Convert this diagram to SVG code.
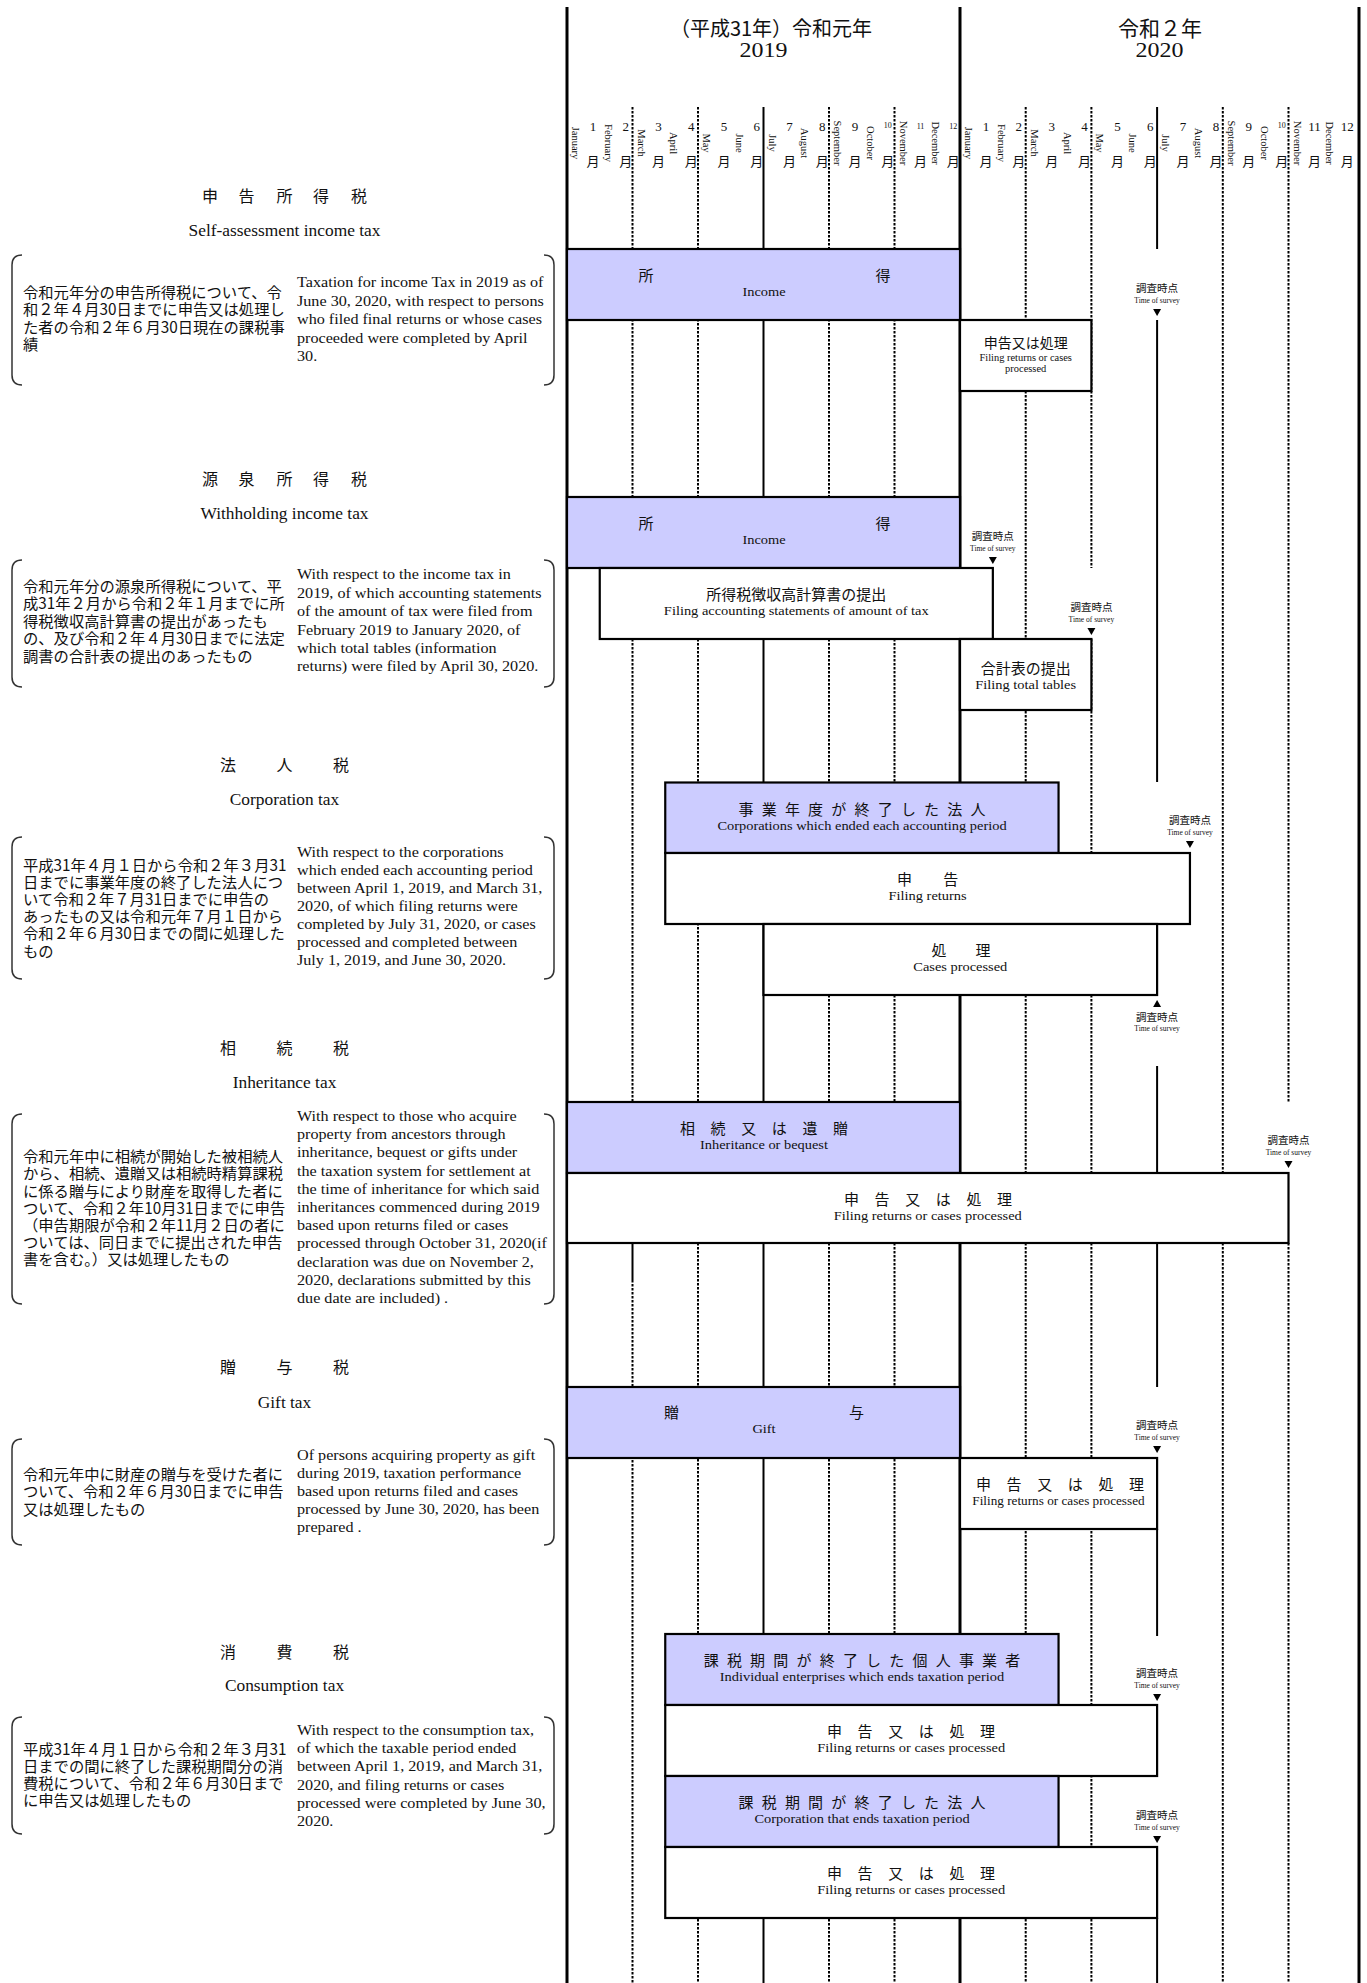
<svg xmlns="http://www.w3.org/2000/svg" width="1367" height="1983" viewBox="0 0 1367 1983">
<style>
.jp{font-family:"Noto Sans CJK JP","Noto Sans CJK SC",sans-serif;fill:#111}
.en{font-family:"Liberation Serif","Times New Roman",serif;fill:#111}
.mid{text-anchor:middle}
.thick{stroke:#000;stroke-width:3}
.solid{stroke:#000;stroke-width:2}
.dot{stroke:#000;stroke-width:2;stroke-dasharray:2.5 1.5}
.box{stroke:#000;stroke-width:2.2;fill:#fff}
.shade{fill:#ccccff}
.br{fill:none;stroke:#333;stroke-width:1.5}
.bj{font-size:15px}
.be{font-size:13.1px}
.dj{font-size:15.3px}
.de{font-size:14.7px}
.tj{font-size:16px}
.te{font-size:15.8px}
.sj{font-size:10.5px}
.se{font-size:7.5px}
.mn{font-size:10.5px;text-anchor:middle}
.num{font-size:13px;text-anchor:middle}
.sn{font-size:8px;text-anchor:middle}
</style>
<rect width="1367" height="1983" fill="#fff"/>

<!-- Grid -->
<g id="grid">
  <line class="thick" x1="567" y1="7" x2="567" y2="1983"/>
  <line class="thick" x1="960" y1="7" x2="960" y2="1983"/>
  <line class="thick" x1="1359" y1="7" x2="1359" y2="1983"/>
  <line class="dot" x1="632.5" y1="107" x2="632.5" y2="1243"/>
  <line class="solid" x1="632.5" y1="1243" x2="632.5" y2="1280" stroke-width="1.5"/>
  <line class="dot" x1="632.5" y1="1280" x2="632.5" y2="1983"/>
  <line class="dot" x1="698" y1="107" x2="698" y2="1983"/>
  <line class="solid" x1="763.5" y1="107" x2="763.5" y2="1983"/>
  <line class="dot" x1="829" y1="107" x2="829" y2="1983"/>
  <line class="dot" x1="894.5" y1="107" x2="894.5" y2="1983"/>
  <line class="dot" x1="1025.7" y1="107" x2="1025.7" y2="1983"/>
  <line class="dot" x1="1091.4" y1="107" x2="1091.4" y2="568"/>
  <line class="dot" x1="1091.4" y1="639" x2="1091.4" y2="1983"/>
  <line class="solid" x1="1157.1" y1="107" x2="1157.1" y2="249"/>
  <line class="solid" x1="1157.1" y1="320" x2="1157.1" y2="782"/>
  <line class="solid" x1="1157.1" y1="1066" x2="1157.1" y2="1387"/>
  <line class="solid" x1="1157.1" y1="1529" x2="1157.1" y2="1636"/>
  <line class="solid" x1="1157.1" y1="1918" x2="1157.1" y2="1983"/>
  <line class="dot" x1="1222.8" y1="107" x2="1222.8" y2="1983"/>
  <line class="dot" x1="1288.5" y1="107" x2="1288.5" y2="1103"/>
  <line class="dot" x1="1288.5" y1="1243" x2="1288.5" y2="1983"/>
</g>

<!-- Header -->
<g id="header">
  <text class="jp mid" x="771" y="36" font-size="20">（平成31年）令和元年</text>
  <text class="jp mid" x="1160" y="36" font-size="21">令和２年</text>
  <g transform="scale(1.1,1)">
    <text class="en mid" x="694.09" y="57" font-size="21.8">2019</text>
    <text class="en mid" x="1054.09" y="57" font-size="21.8">2020</text>
  </g>
  <text class="en num" x="593 625.75 658.5 691.25 724 756.75 789.5 822.25 855" y="131">123456789</text>
  <text class="en sn" x="887.75" y="128">10</text>
  <text class="en sn" x="920.5" y="129">11</text>
  <text class="en sn" x="953.25" y="129">12</text>
  <text class="en num" x="986 1018.85 1051.7 1084.55 1117.4 1150.25 1183.1 1215.95 1248.8" y="131">123456789</text>
  <text class="en sn" x="1281.65" y="128">10</text>
  <text class="en num" x="1314.5" y="131" font-size="11">11</text>
  <text class="en num" x="1347.35" y="131">12</text>
  <text class="jp mid" font-size="13" y="166" x="593 625.75 658.5 691.25 724 756.75 789.5 822.25 855 887.75 920.5 953.25 986 1018.85 1051.7 1084.55 1117.4 1150.25 1183.1 1215.95 1248.8 1281.65 1314.5 1347.35">月月月月月月月月月月月月月月月月月月月月月月月月</text>
  <text class="en mn" transform="translate(572,143) rotate(90)">January</text>
  <text class="en mn" transform="translate(604.75,143) rotate(90)">February</text>
  <text class="en mn" transform="translate(637.5,143) rotate(90)">March</text>
  <text class="en mn" transform="translate(670.25,143) rotate(90)">April</text>
  <text class="en mn" transform="translate(703,143) rotate(90)">May</text>
  <text class="en mn" transform="translate(735.75,143) rotate(90)">June</text>
  <text class="en mn" transform="translate(768.5,143) rotate(90)">July</text>
  <text class="en mn" transform="translate(801.25,143) rotate(90)">August</text>
  <text class="en mn" transform="translate(834,143) rotate(90)">September</text>
  <text class="en mn" transform="translate(866.75,143) rotate(90)">October</text>
  <text class="en mn" transform="translate(899.5,143) rotate(90)">November</text>
  <text class="en mn" transform="translate(932.25,143) rotate(90)">December</text>
  <text class="en mn" transform="translate(965,143) rotate(90)">January</text>
  <text class="en mn" transform="translate(997.85,143) rotate(90)">February</text>
  <text class="en mn" transform="translate(1030.7,143) rotate(90)">March</text>
  <text class="en mn" transform="translate(1063.55,143) rotate(90)">April</text>
  <text class="en mn" transform="translate(1096.4,143) rotate(90)">May</text>
  <text class="en mn" transform="translate(1129.25,143) rotate(90)">June</text>
  <text class="en mn" transform="translate(1162.1,143) rotate(90)">July</text>
  <text class="en mn" transform="translate(1194.95,143) rotate(90)">August</text>
  <text class="en mn" transform="translate(1227.8,143) rotate(90)">September</text>
  <text class="en mn" transform="translate(1260.65,143) rotate(90)">October</text>
  <text class="en mn" transform="translate(1293.5,143) rotate(90)">November</text>
  <text class="en mn" transform="translate(1326.35,143) rotate(90)">December</text>
</g>

<!-- Left panel: row titles and descriptions -->
<g id="row1-desc">
  <text class="jp tj mid" x="210 246.6 284.5 321 359" y="202">申告所得税</text>
  <text class="en te mid" transform="scale(1.1,1)" x="258.64" y="236">Self-assessment income tax</text>
  <path class="br" d="M22,255 Q12,255 12,265 L12,375 Q12,385 22,385"/>
  <path class="br" d="M544,255 Q554,255 554,265 L554,375 Q554,385 544,385"/>
  <g class="jp dj">
    <text x="23" y="297.5">令和元年分の申告所得税について、令</text>
    <text x="23" y="315">和２年４月30日までに申告又は処理し</text>
    <text x="23" y="332.5">た者の令和２年６月30日現在の課税事</text>
    <text x="23" y="350">績</text>
  </g>
  <g class="en de" transform="scale(1.1,1)">
    <text x="270" y="287.5">Taxation for income Tax in 2019 as of</text>
    <text x="270" y="305.9">June 30, 2020, with respect to persons</text>
    <text x="270" y="324.3">who filed final returns or whose cases</text>
    <text x="270" y="342.7">proceeded were completed by April</text>
    <text x="270" y="361.1">30.</text>
  </g>
</g>

<g id="row2-desc">
  <text class="jp tj mid" x="210 246.6 284.5 321 359" y="485">源泉所得税</text>
  <text class="en te mid" transform="scale(1.1,1)" x="258.64" y="519.5">Withholding income tax</text>
  <path class="br" d="M22,560 Q12,560 12,570 L12,677 Q12,687 22,687"/>
  <path class="br" d="M544,560 Q554,560 554,570 L554,677 Q554,687 544,687"/>
  <g class="jp dj">
    <text x="23" y="592">令和元年分の源泉所得税について、平</text>
    <text x="23" y="609.4">成31年２月から令和２年１月までに所</text>
    <text x="23" y="626.8">得税徴収高計算書の提出があったも</text>
    <text x="23" y="644.2">の、及び令和２年４月30日までに法定</text>
    <text x="23" y="661.6">調書の合計表の提出のあったもの</text>
  </g>
  <g class="en de" transform="scale(1.1,1)">
    <text x="270" y="579.5">With respect to the income tax in</text>
    <text x="270" y="597.9">2019, of which accounting statements</text>
    <text x="270" y="616.3">of the amount of tax were filed from</text>
    <text x="270" y="634.7">February 2019 to January 2020, of</text>
    <text x="270" y="653.1">which total tables (information</text>
    <text x="270" y="671.5">returns) were filed by April 30, 2020.</text>
  </g>
</g>

<g id="row3-desc">
  <text class="jp tj mid" x="228 284.5 341" y="771">法人税</text>
  <text class="en te mid" transform="scale(1.1,1)" x="258.64" y="805">Corporation tax</text>
  <path class="br" d="M22,837 Q12,837 12,847 L12,969 Q12,979 22,979"/>
  <path class="br" d="M544,837 Q554,837 554,847 L554,969 Q554,979 544,979"/>
  <g class="jp dj">
    <text x="23" y="870.5">平成31年４月１日から令和２年３月31</text>
    <text x="23" y="887.7">日までに事業年度の終了した法人につ</text>
    <text x="23" y="904.9">いて令和２年７月31日までに申告の</text>
    <text x="23" y="922.1">あったもの又は令和元年７月１日から</text>
    <text x="23" y="939.3">令和２年６月30日までの間に処理した</text>
    <text x="23" y="956.5">もの</text>
  </g>
  <g class="en de" transform="scale(1.1,1)">
    <text x="270" y="857.3">With respect to the corporations</text>
    <text x="270" y="875.2">which ended each accounting period</text>
    <text x="270" y="893.1">between April 1,  2019, and March 31,</text>
    <text x="270" y="911">2020, of which filing returns were</text>
    <text x="270" y="928.9">completed by July 31, 2020, or cases</text>
    <text x="270" y="946.8">processed and completed between</text>
    <text x="270" y="964.7">July 1, 2019, and June 30, 2020.</text>
  </g>
</g>

<g id="row4-desc">
  <text class="jp tj mid" x="228 284.5 341" y="1053.5">相続税</text>
  <text class="en te mid" transform="scale(1.1,1)" x="258.64" y="1088">Inheritance tax</text>
  <path class="br" d="M22,1114 Q12,1114 12,1124 L12,1294 Q12,1304 22,1304"/>
  <path class="br" d="M544,1114 Q554,1114 554,1124 L554,1294 Q554,1304 544,1304"/>
  <g class="jp dj">
    <text x="23" y="1162.2">令和元年中に相続が開始した被相続人</text>
    <text x="23" y="1179.4">から、相続、遺贈又は相続時精算課税</text>
    <text x="23" y="1196.6">に係る贈与により財産を取得した者に</text>
    <text x="23" y="1213.8">ついて、令和２年10月31日までに申告</text>
    <text x="23" y="1231">（申告期限が令和２年11月２日の者に</text>
    <text x="23" y="1248.2">ついては、同日までに提出された申告</text>
    <text x="23" y="1265.4">書を含む。）又は処理したもの</text>
  </g>
  <g class="en de" transform="scale(1.1,1)">
    <text x="270" y="1121">With respect to those who acquire</text>
    <text x="270" y="1139.2">property from ancestors through</text>
    <text x="270" y="1157.4">inheritance, bequest or gifts under</text>
    <text x="270" y="1175.6">the taxation system for settlement at</text>
    <text x="270" y="1193.8">the time of inheritance for which said</text>
    <text x="270" y="1212">inheritances  commenced during 2019</text>
    <text x="270" y="1230.2">based upon returns filed or cases</text>
    <text x="270" y="1248.4">processed through October 31, 2020(if</text>
    <text x="270" y="1266.6">declaration was due on November 2,</text>
    <text x="270" y="1284.8">2020, declarations submitted by this</text>
    <text x="270" y="1303">due date are included) .</text>
  </g>
</g>

<g id="row5-desc">
  <text class="jp tj mid" x="228 284.5 341" y="1373">贈与税</text>
  <text class="en te mid" transform="scale(1.1,1)" x="258.64" y="1408.5">Gift tax</text>
  <path class="br" d="M22,1439 Q12,1439 12,1449 L12,1535 Q12,1545 22,1545"/>
  <path class="br" d="M544,1439 Q554,1439 554,1449 L554,1535 Q554,1545 544,1545"/>
  <g class="jp dj">
    <text x="23" y="1480">令和元年中に財産の贈与を受けた者に</text>
    <text x="23" y="1497.3">ついて、令和２年６月30日までに申告</text>
    <text x="23" y="1514.6">又は処理したもの</text>
  </g>
  <g class="en de" transform="scale(1.1,1)">
    <text x="270" y="1459.6">Of persons acquiring property as gift</text>
    <text x="270" y="1477.8">during 2019, taxation performance</text>
    <text x="270" y="1496">based upon returns filed and cases</text>
    <text x="270" y="1514.2">processed by June 30, 2020, has been</text>
    <text x="270" y="1532.4">prepared .</text>
  </g>
</g>

<g id="row6-desc">
  <text class="jp tj mid" x="228 284.5 341" y="1658">消費税</text>
  <text class="en te mid" transform="scale(1.1,1)" x="258.64" y="1691.5">Consumption tax</text>
  <path class="br" d="M22,1717 Q12,1717 12,1727 L12,1824 Q12,1834 22,1834"/>
  <path class="br" d="M544,1717 Q554,1717 554,1727 L554,1824 Q554,1834 544,1834"/>
  <g class="jp dj">
    <text x="23" y="1754.5">平成31年４月１日から令和２年３月31</text>
    <text x="23" y="1771.8">日までの間に終了した課税期間分の消</text>
    <text x="23" y="1789.1">費税について、令和２年６月30日まで</text>
    <text x="23" y="1806.4">に申告又は処理したもの</text>
  </g>
  <g class="en de" transform="scale(1.1,1)">
    <text x="270" y="1735">With respect to the consumption tax,</text>
    <text x="270" y="1753.2">of which the taxable period ended</text>
    <text x="270" y="1771.4">between April 1, 2019, and March 31,</text>
    <text x="270" y="1789.6">2020, and filing returns or cases</text>
    <text x="270" y="1807.8">processed were completed by June 30,</text>
    <text x="270" y="1826">2020.</text>
  </g>
</g>

<!-- Chart boxes -->
<g id="r1-income">
  <rect class="box shade" x="567" y="249" width="393" height="71"/>
  <text class="jp bj mid" x="646 883" y="281">所得</text>
  <text class="en be mid" transform="scale(1.1,1)" x="694.55" y="296.5">Income</text>
</g>
<g id="r1-filing">
  <rect class="box" x="960" y="320" width="131.4" height="71"/>
  <text class="jp mid" font-size="14" x="1025.7" y="348">申告又は処理</text>
  <g class="en mid" font-size="9.5" transform="scale(1.1,1)">
    <text x="932.45" y="361">Filing returns or cases</text>
    <text x="932.45" y="372.5">processed</text>
  </g>
</g>

<g id="r2-income">
  <rect class="box shade" x="567" y="497" width="393" height="71"/>
  <text class="jp bj mid" x="646 883" y="529">所得</text>
  <text class="en be mid" transform="scale(1.1,1)" x="694.55" y="544.5">Income</text>
</g>
<g id="r2-statements">
  <rect class="box" x="599.75" y="568" width="393.1" height="71"/>
  <text class="jp bj mid" x="796.3" y="600">所得税徴収高計算書の提出</text>
  <text class="en be mid" transform="scale(1.1,1)" x="723.9" y="615.5">Filing accounting statements of amount of tax</text>
</g>
<g id="r2-total">
  <rect class="box" x="960" y="639" width="131.4" height="71"/>
  <text class="jp bj mid" x="1025.7" y="674">合計表の提出</text>
  <text class="en be mid" transform="scale(1.1,1)" x="932.45" y="689">Filing total tables</text>
</g>

<g id="r3-corp">
  <rect class="box shade" x="665.25" y="782.5" width="393.3" height="70.5"/>
  <text class="jp bj mid" x="746 769.2 792.4 815.6 838.8 862 885.2 908.4 931.6 954.8 978" y="814.5">事業年度が終了した法人</text>
  <text class="en be mid" transform="scale(1.1,1)" x="783.64" y="830">Corporations which ended each accounting period</text>
</g>
<g id="r3-filing">
  <rect class="box" x="665.25" y="853" width="524.7" height="71"/>
  <text class="jp bj mid" x="904.4 950.8" y="885">申告</text>
  <text class="en be mid" transform="scale(1.1,1)" x="843.27" y="900.5">Filing returns</text>
</g>
<g id="r3-processed">
  <rect class="box" x="763.5" y="924" width="393.6" height="71"/>
  <text class="jp bj mid" x="939 983" y="956">処理</text>
  <text class="en be mid" transform="scale(1.1,1)" x="873" y="971.5">Cases processed</text>
</g>

<g id="r4-inherit">
  <rect class="box shade" x="567" y="1102" width="393" height="71"/>
  <text class="jp bj mid" x="687.5 718.1 748.7 779.3 809.9 840.5" y="1134">相続又は遺贈</text>
  <text class="en be mid" transform="scale(1.1,1)" x="694.55" y="1149.5">Inheritance or bequest</text>
</g>
<g id="r4-filing">
  <rect class="box" x="567" y="1173" width="721.5" height="70"/>
  <text class="jp bj mid" x="851.5 882.1 912.7 943.3 973.9 1004.5" y="1205">申告又は処理</text>
  <text class="en be mid" transform="scale(1.1,1)" x="843.41" y="1220.5">Filing returns or cases processed</text>
</g>

<g id="r5-gift">
  <rect class="box shade" x="567" y="1387" width="393" height="71"/>
  <text class="jp bj mid" x="671.6 856.5" y="1418">贈与</text>
  <text class="en be mid" transform="scale(1.1,1)" x="694.55" y="1433">Gift</text>
</g>
<g id="r5-filing">
  <rect class="box" x="960" y="1458" width="197.1" height="71"/>
  <text class="jp bj mid" x="983.5 1014.1 1044.7 1075.3 1105.9 1136.5" y="1490">申告又は処理</text>
  <text class="en mid" font-size="12" transform="scale(1.1,1)" x="962.27" y="1505">Filing returns or cases processed</text>
</g>

<g id="r6-indiv">
  <rect class="box shade" x="665.25" y="1634" width="393.3" height="71"/>
  <text class="jp bj mid" x="711.2 734.4 757.6 780.8 804 827.2 850.4 873.6 896.8 920 943.2 966.4 989.6 1012.8" y="1666">課税期間が終了した個人事業者</text>
  <text class="en be mid" transform="scale(1.1,1)" x="783.64" y="1681.5">Individual enterprises which ends taxation period</text>
</g>
<g id="r6-filing1">
  <rect class="box" x="665.25" y="1705" width="491.85" height="71"/>
  <text class="jp bj mid" x="834.5 865.1 895.7 926.3 956.9 987.5" y="1737">申告又は処理</text>
  <text class="en be mid" transform="scale(1.1,1)" x="828.36" y="1752.5">Filing returns or cases processed</text>
</g>
<g id="r6-corp">
  <rect class="box shade" x="665.25" y="1776" width="393.3" height="71"/>
  <text class="jp bj mid" x="746 769.2 792.4 815.6 838.8 862 885.2 908.4 931.6 954.8 978" y="1808">課税期間が終了した法人</text>
  <text class="en be mid" transform="scale(1.1,1)" x="783.64" y="1823.5">Corporation that ends taxation period</text>
</g>
<g id="r6-filing2">
  <rect class="box" x="665.25" y="1847" width="491.85" height="71"/>
  <text class="jp bj mid" x="834.5 865.1 895.7 926.3 956.9 987.5" y="1879">申告又は処理</text>
  <text class="en be mid" transform="scale(1.1,1)" x="828.36" y="1894.5">Filing returns or cases processed</text>
</g>

<!-- Survey markers -->
<g id="survey-r1">
  <text class="jp sj mid" x="1157.1" y="292">調査時点</text>
  <text class="en se mid" x="1157.1" y="302.5">Time of survey</text>
  <polygon points="1153.1,309 1161.1,309 1157.1,316" fill="#000"/>
</g>
<g id="survey-r2a">
  <text class="jp sj mid" x="992.85" y="540">調査時点</text>
  <text class="en se mid" x="992.85" y="550.5">Time of survey</text>
  <polygon points="988.85,557 996.85,557 992.85,564" fill="#000"/>
</g>
<g id="survey-r2b">
  <text class="jp sj mid" x="1091.4" y="611">調査時点</text>
  <text class="en se mid" x="1091.4" y="621.5">Time of survey</text>
  <polygon points="1087.4,628 1095.4,628 1091.4,635" fill="#000"/>
</g>
<g id="survey-r3a">
  <text class="jp sj mid" x="1189.95" y="824">調査時点</text>
  <text class="en se mid" x="1189.95" y="834.5">Time of survey</text>
  <polygon points="1185.95,841 1193.95,841 1189.95,848" fill="#000"/>
</g>
<g id="survey-r3b">
  <polygon points="1157.1,1000 1153.1,1007 1161.1,1007" fill="#000"/>
  <text class="jp sj mid" x="1157.1" y="1020.5">調査時点</text>
  <text class="en se mid" x="1157.1" y="1031">Time of survey</text>
</g>
<g id="survey-r4">
  <text class="jp sj mid" x="1288.5" y="1144">調査時点</text>
  <text class="en se mid" x="1288.5" y="1154.5">Time of survey</text>
  <polygon points="1284.5,1161 1292.5,1161 1288.5,1168" fill="#000"/>
</g>
<g id="survey-r5">
  <text class="jp sj mid" x="1157.1" y="1429">調査時点</text>
  <text class="en se mid" x="1157.1" y="1439.5">Time of survey</text>
  <polygon points="1153.1,1446 1161.1,1446 1157.1,1453" fill="#000"/>
</g>
<g id="survey-r6a">
  <text class="jp sj mid" x="1157.1" y="1677">調査時点</text>
  <text class="en se mid" x="1157.1" y="1687.5">Time of survey</text>
  <polygon points="1153.1,1694 1161.1,1694 1157.1,1701" fill="#000"/>
</g>
<g id="survey-r6b">
  <text class="jp sj mid" x="1157.1" y="1819">調査時点</text>
  <text class="en se mid" x="1157.1" y="1829.5">Time of survey</text>
  <polygon points="1153.1,1836 1161.1,1836 1157.1,1843" fill="#000"/>
</g>
</svg>
